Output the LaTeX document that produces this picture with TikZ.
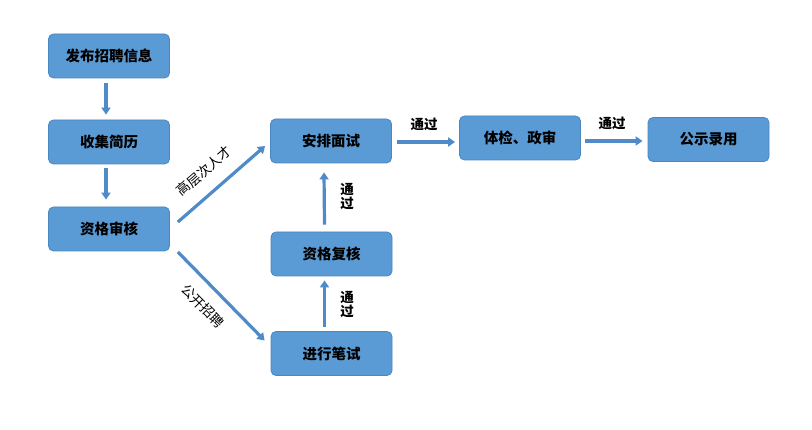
\documentclass[tikz,border=0pt]{standalone}
\usepackage{fontspec}
\newfontfamily\cjk{Noto Sans CJK SC}
\usetikzlibrary{arrows.meta,calc}
\definecolor{boxfill}{HTML}{5B9BD5}
\definecolor{boxline}{HTML}{4A86C0}
\definecolor{arrcol}{HTML}{4F8AC9}
\tikzset{
  box/.style={draw=boxline, line width=0.8pt, fill=boxfill, rounded corners=5pt,
    minimum width=121pt, minimum height=44pt, inner sep=0pt,
    font=\cjk\bfseries\fontsize{14.5pt}{16pt}\selectfont},
  arr/.style={draw=arrcol, line width=3.2pt, -{Triangle[length=7pt,width=9pt]}},
  lbl/.style={font=\cjk\bfseries\fontsize{13.5pt}{15pt}\selectfont, inner sep=0pt},
  dlbl/.style={font=\cjk\fontsize{13.5pt}{15pt}\selectfont, inner sep=0pt},
}
\begin{document}
\begin{tikzpicture}[x=1pt,y=-1pt]
\useasboundingbox[fill=white] (0,0) rectangle (812,430);
\node[box] (fb) at (109,56) {发布招聘信息};
\node[box] (sj) at (109,142) {收集简历};
\node[box] (zs) at (109,229) {资格审核};
\node[box] (ap) at (331,141) {安排面试};
\node[box] (fh) at (331.5,254) {资格复核};
\node[box] (bs) at (331.5,353.5) {进行笔试};
\node[box] (tj) at (520,138) {体检、政审};
\node[box] (gs) at (708.5,139.5) {公示录用};

\draw[arr] ([xshift=-3pt,yshift=-5pt]fb.south) -- ([xshift=-3pt,yshift=5pt]sj.north);
\draw[arr] ([xshift=-3pt,yshift=-4pt]sj.south) -- ([xshift=-3pt,yshift=7pt]zs.north);
\draw[arr] ([xshift=8pt,yshift=7pt]zs.east) -- ([xshift=-5pt,yshift=-5pt]ap.west);
\draw[arr] ([xshift=8pt,yshift=-23pt]zs.east) -- ([xshift=-6pt,yshift=13pt]bs.west);
\draw[arr] ([xshift=-7pt,yshift=7pt]fh.north) -- ([xshift=-7pt,yshift=-9pt]ap.south);
\draw[arr] ([xshift=-7pt,yshift=4pt]bs.north) -- ([xshift=-7pt,yshift=-4pt]fh.south);
\coordinate (h1s) at ($(ap.east)+(5,1)$);
\coordinate (h1e) at ($(tj.west)+(-4,4)$);
\draw[arr] (h1s) -- (h1e);
\coordinate (h2s) at ($(tj.east)+(4,3)$);
\coordinate (h2e) at ($(gs.west)+(-5,1.5)$);
\draw[arr] (h2s) -- (h2e);

\node[lbl] (t1) at (424,124) {通过};
\node[lbl] (t2) at (612,123) {通过};
\node[lbl, align=center] (t3) at (347,197) {通\\[-1pt]过};
\node[lbl, align=center] (t4) at (347,305) {通\\[-1pt]过};
\node[dlbl, rotate=41] (t5) at (204,171) {高层次人才};
\node[dlbl, rotate=-45] (t6) at (203,306) {公开招聘};
\end{tikzpicture}
\end{document}
